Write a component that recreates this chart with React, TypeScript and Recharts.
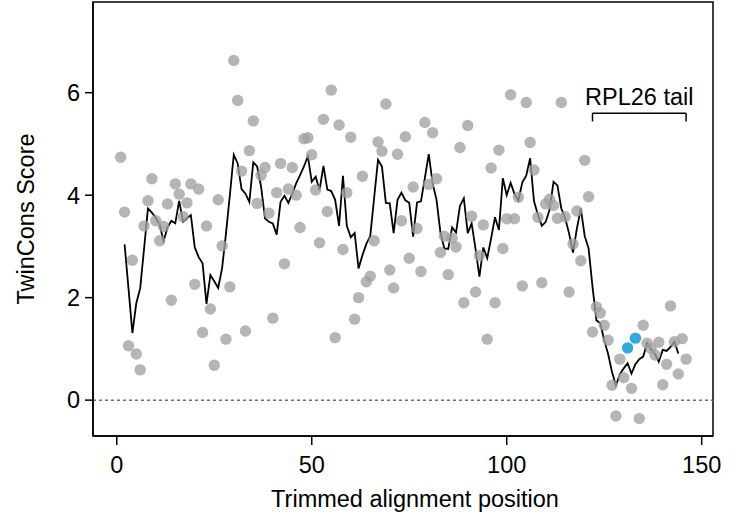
import React from 'react';
import { ComposedChart, Scatter, Line, XAxis, YAxis, ReferenceLine, ReferenceArea } from 'recharts';

const positions = [
  1, 2, 3, 4, 5, 6, 7, 8, 9, 10, 11, 12, 13, 14, 15, 16, 17, 18, 19, 20,
  21, 22, 23, 24, 25, 26, 27, 28, 29, 30, 31, 32, 33, 34, 35, 36, 37, 38, 39, 40,
  41, 42, 43, 44, 45, 46, 47, 48, 49, 50, 51, 52, 53, 54, 55, 56, 57, 58, 59, 60,
  61, 62, 63, 64, 65, 66, 67, 68, 69, 70, 71, 72, 73, 74, 75, 76, 77, 78, 79, 80,
  81, 82, 83, 84, 85, 86, 87, 88, 89, 90, 91, 92, 93, 94, 95, 96, 97, 98, 99, 100,
  101, 102, 103, 104, 105, 106, 107, 108, 109, 110, 111, 112, 113, 114, 115, 116, 117, 118, 119, 120,
  121, 122, 123, 124, 125, 126, 127, 128, 129, 130, 131, 132, 133, 134, 135, 136, 137, 138, 139, 140,
  141, 142, 143, 144, 145, 146,
];

const scores = [
  4.74, 3.67, 1.06, 2.73, 0.9, 0.59, 3.4, 3.89, 4.32, 3.5, 3.11, 3.39, 3.83, 1.95, 4.22, 4.02, 3.58, 3.85, 4.22, 2.26,
  4.12, 1.32, 3.4, 1.78, 0.68, 3.91, 3.01, 1.19, 2.21, 6.63, 5.85, 4.47, 1.35, 4.87, 5.45, 3.84, 4.39, 4.54, 3.65, 1.6,
  4.05, 4.62, 2.66, 4.12, 4.54, 4.0, 3.37, 5.1, 5.12, 4.79, 4.1, 3.07, 5.48, 3.68, 6.05, 1.22, 5.37, 2.94, 4.05, 5.13,
  1.58, 2.0, 4.37, 2.31, 2.42, 3.11, 5.04, 4.86, 5.78, 2.54, 2.19, 4.8, 3.5, 5.14, 2.77, 4.16, 3.35, 2.51, 5.42, 4.21,
  5.22, 4.32, 2.88, 3.2, 2.45, 3.16, 2.99, 4.93, 1.9, 5.36, 3.59, 2.11, 2.82, 3.42, 1.19, 4.53, 1.9, 4.88, 2.96, 3.54,
  5.96, 3.54, 3.96, 2.23, 5.81, 5.03, 4.49, 3.57, 2.29, 3.83, 3.92, 3.8, 3.55, 5.81, 3.58, 2.11, 3.05, 3.69, 2.72, 4.68,
  3.97, 1.33, 1.82, 1.7, 1.46, 1.17, 0.29, -0.31, 0.8, 0.44, 1.02, 0.23, 1.21, -0.36, 1.46, 1.11, 1.01, 0.88, 1.13, 0.3,
  0.7, 1.84, 1.14, 0.51, 1.2, 0.8,
];

const smoothed = [
  null, 3.04, 2.18, 1.31, 1.89, 2.18, 2.96, 3.74, 3.66, 3.56, 3.42, 3.1, 3.37, 3.5, 3.45, 3.89, 3.48, 3.55, 3.61, 2.98,
  2.79, 2.67, 1.88, 2.44, 2.32, 2.19, 2.57, 3.25, 4.0, 4.79, 4.62, 4.12, 4.03, 3.87, 4.64, 4.56, 4.17, 3.55, 3.48, 3.45,
  3.23, 3.87, 3.99, 3.85, 4.03, 4.23, 4.39, 4.56, 4.76, 4.26, 4.36, 4.1, 4.57, 4.11, 4.08, 3.91, 3.4, 4.38, 3.4, 3.18,
  3.26, 2.57, 2.83, 3.05, 3.2, 3.95, 4.69, 4.56, 3.85, 3.84, 3.26, 3.91, 4.05, 3.9, 3.85, 3.19, 3.86, 3.88, 4.33, 4.8,
  4.23, 3.91, 3.27, 2.96, 2.95, 3.37, 3.27, 3.79, 3.94, 3.26, 3.45, 2.95, 2.41, 2.98, 2.77, 3.16, 3.57, 3.32, 4.33, 4.0,
  4.24, 4.02, 3.9, 4.25, 4.38, 4.72, 3.88, 3.62, 3.4, 3.48, 3.72, 4.26, 4.19, 3.74, 3.55, 3.25, 2.88, 3.35, 3.74, 3.2,
  2.96, 2.21, 1.56, 1.5, 1.17, 0.9, 0.55, 0.29, 0.5, 0.62, 0.72, 0.52, 0.7, 0.8, 0.85, 1.11, 0.99, 0.9, 0.75, 0.98,
  0.96, 1.04, 1.14, 0.91, null, null,
];

const highlighted = [131, 133];
const xTicks = [0, 50, 100, 150];
const yTicks = [0, 2, 4, 6];
const xDomain = [-6.1, 152.9];
const yDomain = [-0.7, 7.77];
const tailLabel = 'RPL26 tail';
const tailStart = 122;
const tailEnd = 146;
const tailY = 5.6;
const tailDrop = 0.16;

const rows = positions.map((x, i) => ({ x, score: scores[i], smooth: smoothed[i] }));
const grayData = rows.filter((r) => !highlighted.includes(r.x)).map((r) => ({ x: r.x, y: r.score }));
const blueData = rows.filter((r) => highlighted.includes(r.x)).map((r) => ({ x: r.x, y: r.score }));
const lineData = rows.filter((r) => r.smooth != null).map((r) => ({ x: r.x, y: r.smooth }));

const FONT = '"Liberation Sans", Arial, Helvetica, sans-serif';
const FS = 23.5;

const grayDot = (p: any) => (
  <circle cx={p.cx} cy={p.cy} r={5.7} fill="#a0a0a0" fillOpacity={0.78} stroke="none" />
);
const blueDot = (p: any) => (
  <circle cx={p.cx} cy={p.cy} r={5.7} fill="#33a9df" stroke="none" />
);

export default function App() {
  return (
    <div style={{ position: 'absolute', left: 0, top: 0, width: 738, height: 520, background: '#fff', fontFamily: FONT }}>
      <ComposedChart width={738} height={520} margin={{ top: 2, right: 25, bottom: 0, left: 0 }} style={{ fontFamily: FONT }}>
        <XAxis
          type="number"
          dataKey="x"
          domain={xDomain}
          ticks={xTicks}
          allowDataOverflow
          height={84}
          tickSize={9}
          tickMargin={11}
          axisLine={{ stroke: '#000', strokeWidth: 1.5 }}
          tickLine={{ stroke: '#000', strokeWidth: 1.5 }}
          tick={{ fill: '#000', fontSize: FS, fontFamily: FONT }}
          label={{ value: 'Trimmed alignment position', position: 'insideBottom', offset: 13, dx: 12, fill: '#000', fontSize: FS, fontFamily: FONT }}
        />
        <YAxis
          type="number"
          dataKey="y"
          domain={yDomain}
          ticks={yTicks}
          allowDataOverflow
          width={93}
          tickSize={8}
          tickMargin={5}
          axisLine={{ stroke: '#000', strokeWidth: 1.5 }}
          tickLine={{ stroke: '#000', strokeWidth: 1.5 }}
          tick={{ fill: '#000', fontSize: FS, fontFamily: FONT }}
          label={{ value: 'TwinCons Score', angle: -90, position: 'insideLeft', offset: 26, textAnchor: 'middle', fill: '#000', fontSize: FS, fontFamily: FONT }}
        />
        <ReferenceArea
          x1={xDomain[0]}
          x2={xDomain[1]}
          y1={yDomain[0]}
          y2={yDomain[1]}
          fill="none"
          fillOpacity={0}
          stroke="#000"
          strokeWidth={1.5}
        />
        <ReferenceLine y={0} stroke="#6e6e6e" strokeWidth={1.5} strokeDasharray="3 3" />
        <Scatter data={grayData} dataKey="y" shape={grayDot} isAnimationActive={false} />
        <Line data={lineData} dataKey="y" type="linear" stroke="#000" strokeWidth={1.8} dot={false} activeDot={false} isAnimationActive={false} />
        <Scatter data={blueData} dataKey="y" shape={blueDot} isAnimationActive={false} />
        <ReferenceLine
          segment={[{ x: tailStart, y: tailY }, { x: tailEnd, y: tailY }]}
          stroke="#000"
          strokeWidth={1.5}
          label={{ value: tailLabel, position: 'top', offset: 8, fill: '#000', fontSize: FS, fontFamily: FONT }}
        />
        <ReferenceLine segment={[{ x: tailStart, y: tailY }, { x: tailStart, y: tailY - tailDrop }]} stroke="#000" strokeWidth={1.5} />
        <ReferenceLine segment={[{ x: tailEnd, y: tailY }, { x: tailEnd, y: tailY - tailDrop }]} stroke="#000" strokeWidth={1.5} />
      </ComposedChart>
    </div>
  );
}
